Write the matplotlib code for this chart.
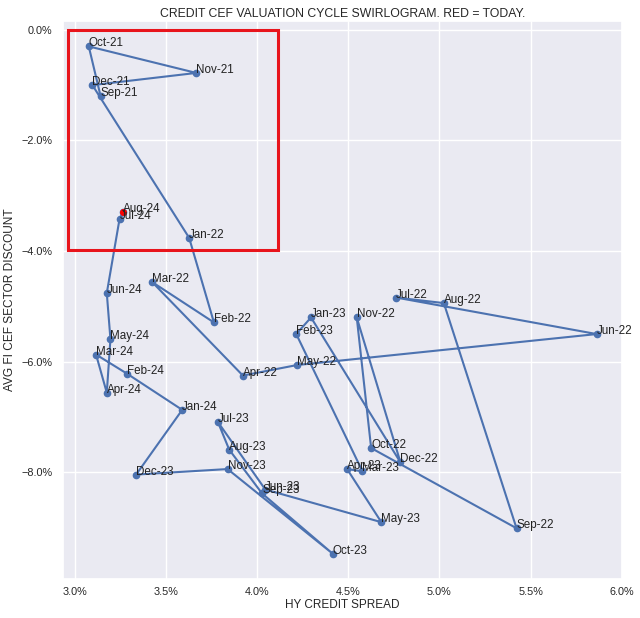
import matplotlib
matplotlib.use("Agg")
import matplotlib.pyplot as plt
import matplotlib.patches as patches
from matplotlib.ticker import PercentFormatter
import seaborn as sns

# monthly points, Sep-21 .. Aug-24
months = ["Sep-21", "Oct-21", "Nov-21", "Dec-21", "Jan-22", "Feb-22", "Mar-22", "Apr-22",
          "May-22", "Jun-22", "Jul-22", "Aug-22", "Sep-22", "Oct-22", "Nov-22", "Dec-22",
          "Jan-23", "Feb-23", "Mar-23", "Apr-23", "May-23", "Jun-23", "Jul-23", "Aug-23",
          "Sep-23", "Oct-23", "Nov-23", "Dec-23", "Jan-24", "Feb-24", "Mar-24", "Apr-24",
          "May-24", "Jun-24", "Jul-24", "Aug-24"]
hy_spread = [3.14, 3.075, 3.665, 3.095, 3.626, 3.762, 3.423, 3.921,
             4.218, 5.863, 4.762, 5.024, 5.423, 4.625, 4.546, 4.786,
             4.295, 4.214, 4.577, 4.493, 4.681, 4.044, 3.784, 3.846,
             4.026, 4.414, 3.837, 3.335, 3.588, 3.287, 3.115, 3.174,
             3.194, 3.174, 3.244, 3.264]
cef_discount = [-1.20, -0.30, -0.78, -1.00, -3.76, -5.29, -4.56, -6.25,
                -6.06, -5.50, -4.84, -4.94, -9.01, -7.56, -5.20, -7.82,
                -5.20, -5.50, -7.98, -7.94, -8.90, -8.31, -7.09, -7.59,
                -8.38, -9.47, -7.94, -8.04, -6.87, -6.22, -5.87, -6.56,
                -5.59, -4.76, -3.42, -3.29]

sns.set_theme(style="darkgrid")
plt.rcParams['font.family'] = ['Liberation Sans', 'DejaVu Sans']

fig = plt.figure(figsize=(6.4, 6.18), dpi=100)
ax = fig.add_axes([0.099, 0.063, 0.873, 0.903])

ax.plot(hy_spread, cef_discount, marker="o", color="#4c72b0", lw=1.5, markersize=4.5)
ax.plot(hy_spread[-1], cef_discount[-1], marker="o", color="red", markersize=4)

for name, x, y in zip(months, hy_spread, cef_discount):
    ax.text(x, y, name, fontsize=8.4, color="#222222")

# highlight box (add_artist so it doesn't touch autoscale)
box = patches.Rectangle((2.962, -3.98), 1.153, 3.98, fill=False, edgecolor="#e8141c",
                        lw=2.2, zorder=5)
ax.add_artist(box)

ax.xaxis.set_major_formatter(PercentFormatter(100, decimals=1))
ax.yaxis.set_major_formatter(PercentFormatter(100, decimals=1))
ax.tick_params(labelsize=7.8, pad=2)
ax.tick_params(axis="x", pad=0)
ax.set_xlabel("HY CREDIT SPREAD", fontsize=8.5, labelpad=1)
ax.set_ylabel("AVG FI CEF SECTOR DISCOUNT", fontsize=8.6)
ax.set_title("CREDIT CEF VALUATION CYCLE SWIRLOGRAM. RED = TODAY.", fontsize=8.8, pad=3)

fig.savefig("out.png", dpi=100)
